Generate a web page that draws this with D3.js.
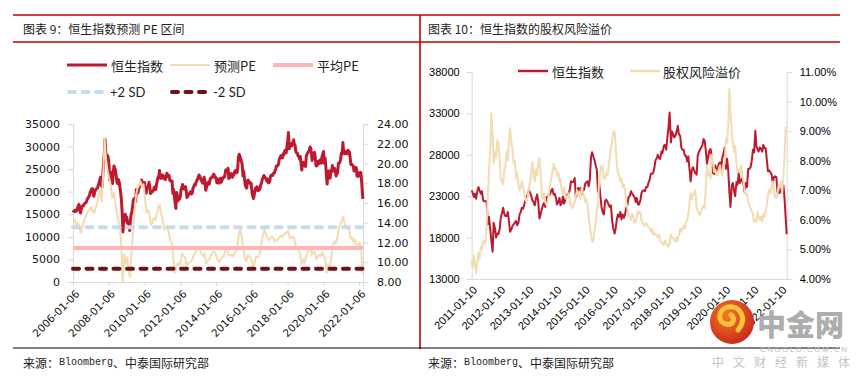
<!DOCTYPE html>
<html><head><meta charset="utf-8">
<script src="https://cdn.jsdelivr.net/npm/d3@7"></script>
<style>body{margin:0;background:#fff}svg{display:block}</style>
</head><body>
<svg id="c" width="866" height="379"></svg>
<script>
// ---------------- DATA ----------------
// Hang Seng Index, two readings per month (8th, 22nd), Jan 2006 – Mar 2022
const hsiValues = [
15400,15700,15600,15900,15700,15800,16400,16800,17200,16000,15300,16000,16700,16900,16900,17300,17400,17500,17800,18300,18600,18900,19100,19900,
20200,20600,20700,19700,19000,19800,20300,20600,20700,20800,21500,21900,22600,23200,21500,21000,24000,26500,28500,31600,28500,28200,28000,27800,
26500,22600,24000,24300,22200,21800,24500,25700,25200,24800,23300,22100,21800,22700,22000,21000,19500,18000,15000,11100,14000,13500,15000,14400,
14400,13000,13200,12800,11400,13600,15000,15500,16800,18100,18500,18400,17800,20500,20400,19700,20600,21000,21500,21700,22600,21800,21400,21900,
22000,20100,19700,20600,21000,21200,22100,21100,19600,19800,20000,20100,20300,21000,21100,20500,21600,22400,23200,23100,24700,23000,23000,23000,
23700,23400,22900,23300,22700,23500,24100,23700,23300,23600,22500,22400,22400,22400,19600,20500,19000,17600,16300,19800,19100,18000,18500,18400,
19000,20400,21000,21600,20900,20600,20600,21100,20000,18700,19000,19400,19600,19800,20000,19500,19800,20800,21100,21600,21500,22000,22500,22700,
23300,23700,23400,23000,22500,22300,21900,22700,23200,22400,20300,20800,21400,21900,22200,21700,22900,22900,23200,23200,23700,23900,23200,23300,
22800,22000,22300,22800,21900,22100,23000,22100,22500,23100,23200,23200,23900,24800,24700,24700,25200,22900,23100,24000,23800,24000,23200,23600,
23800,24500,24700,24800,24200,24900,27700,28300,27800,27400,26700,26200,23500,24600,23000,21700,21000,20800,22400,22600,22300,22000,21700,21900,
20000,19100,18500,19100,20200,20800,20500,21100,20200,20800,20400,20800,21600,21900,22900,23000,23600,23300,23100,22900,22300,22800,22000,22000,
22500,23400,23700,23700,23600,24100,24100,24600,25000,25700,25700,25800,26400,27300,27600,28000,27600,27500,28400,28200,29100,29200,28600,29900,
31400,33100,29500,30800,30500,30100,30300,30800,31500,30500,30300,28900,28600,28600,27900,27900,27200,27800,26200,24800,26200,26500,26100,25800,
25600,27900,28400,28600,28900,29100,29900,29700,28400,26900,27800,28500,28700,27800,25800,25700,26700,26100,26300,26900,27100,26300,27700,28200,
28900,26300,27500,26100,23500,21700,24300,24600,23600,23000,24700,24400,25800,24600,24900,25200,24400,23500,24600,24100,26300,26300,26500,27200,
28600,28300,30900,29000,28700,28400,28900,28700,28400,29200,28800,28800,27300,26000,26100,25900,25600,24600,25300,25400,25300,23500,23400,23400,
24200,23800,24300,22700,20500,18400
];
// Forward PE (monthly, mid-month), Jan 2006 – Mar 2022
const peValues = [
14.1,14.3,13.6,14.0,13.5,13.0,13.6,14.2,14.6,14.9,15.2,15.4,
15.6,15.2,15.0,15.5,16.0,16.8,17.3,16.2,19.0,22.5,20.0,19.2,
18.5,17.8,16.5,17.0,16.2,15.0,14.3,13.8,12.0,8.1,10.8,9.8,
10.5,9.2,8.5,11.0,13.0,15.0,16.8,17.5,17.8,18.2,17.6,17.9,
16.5,15.0,15.3,15.0,13.8,14.0,14.5,14.3,14.9,15.6,15.8,14.8,
14.2,13.3,13.5,13.7,13.0,12.2,12.0,10.5,8.9,9.6,9.9,9.6,
10.2,10.9,10.6,10.5,9.6,9.9,10.0,10.1,10.4,10.8,11.0,11.3,
11.5,11.2,10.8,10.6,10.9,9.9,10.1,10.3,10.6,10.9,11.1,11.0,
10.6,10.2,10.0,10.3,10.5,10.6,11.3,11.4,10.8,10.7,10.8,10.6,
10.9,11.1,11.4,12.8,13.4,12.5,11.6,10.4,10.1,10.7,10.6,10.4,
9.9,9.5,10.3,10.6,10.5,10.8,11.8,12.6,13.3,12.9,12.5,12.2,
12.4,12.6,12.5,12.1,12.3,12.2,12.5,12.7,12.6,12.8,12.9,13.0,
13.2,12.6,12.4,12.6,12.5,11.8,11.5,11.2,10.9,9.8,10.3,9.9,
10.5,11.0,11.3,11.6,10.7,11.1,11.0,10.3,10.6,10.8,10.6,11.0,
10.6,10.3,8.9,9.8,9.6,10.5,11.6,12.1,11.9,12.4,13.4,13.8,
14.2,14.6,13.9,13.7,13.4,13.3,12.4,12.5,12.0,12.3,11.8,11.7,
12.0,11.3,8.9
];
const peMean = 11.45, pePlus2SD = 13.55, peMinus2SD = 9.35;
// Equity risk premium (%), two readings per month, Jan 2011 – Mar 2022
const erpValues = [
4.6,4.4,4.8,4.5,4.2,4.5,4.9,4.7,5.1,5.0,5.3,5.2,5.3,5.8,6.9,7.6,8.4,9.6,8.9,7.9,8.3,8.1,8.7,8.6,
8.0,7.4,7.3,7.2,7.7,7.85,8.3,8.0,8.7,9.1,8.6,8.4,7.9,8.0,7.4,7.6,7.2,7.0,7.1,7.3,7.1,6.9,6.7,6.6,
6.8,7.1,7.3,7.6,7.96,7.6,7.3,7.7,7.5,7.9,8.1,7.6,6.9,6.7,6.9,6.6,6.5,6.6,6.9,7.2,7.4,7.6,7.9,7.7,
7.75,7.5,7.6,7.3,7.4,7.0,6.84,7.1,6.9,6.7,6.75,6.9,6.6,6.5,6.4,6.5,6.6,6.8,7.0,6.84,6.9,6.7,7.1,6.95,
6.8,6.6,6.7,6.5,6.1,5.8,5.5,5.26,5.3,5.6,5.9,6.3,6.6,7.3,7.6,7.85,7.7,7.4,7.4,7.6,7.5,7.8,8.1,8.4,
8.7,9.0,8.98,8.5,7.9,7.6,7.5,7.3,7.4,7.1,7.2,7.0,6.6,6.4,6.2,6.1,6.0,6.2,6.1,5.9,5.94,6.1,6.3,6.2,
6.27,6.0,5.9,5.8,5.82,5.9,5.8,5.75,5.7,5.6,5.7,5.5,5.55,5.5,5.5,5.4,5.49,5.3,5.25,5.2,5.15,5.3,5.2,5.15,
5.1,5.2,5.5,5.4,5.4,5.3,5.26,5.4,5.3,5.5,5.7,5.6,5.7,5.8,5.7,5.9,6.0,6.2,6.6,6.9,6.7,6.84,6.9,7.0,
6.4,6.3,6.2,6.16,6.3,6.4,6.5,6.4,7.2,7.85,7.5,7.6,7.4,8.19,8.0,7.62,7.7,7.5,7.51,7.7,7.85,7.6,7.5,7.85,
7.9,8.75,8.6,9.2,10.44,9.6,8.98,8.6,8.3,8.5,7.9,7.62,7.7,7.6,7.85,7.5,7.3,7.0,6.84,6.9,6.6,6.5,6.4,6.3,
6.2,5.94,6.0,5.94,6.27,6.1,6.0,6.1,5.94,6.2,6.1,6.3,6.5,6.84,7.0,6.9,7.1,7.3,7.0,6.8,6.73,6.9,7.18,7.1,
7.3,6.9,7.5,8.2,9.1,9.15
];
const leftYTicks = [0,5000,10000,15000,20000,25000,30000,35000];
const leftY2Ticks = [8,10,12,14,16,18,20,22,24];
const leftXTicks = ["2006-01-06","2008-01-06","2010-01-06","2012-01-06","2014-01-06","2016-01-06","2018-01-06","2020-01-06","2022-01-06"];
const rightYTicks = [13000,18000,23000,28000,33000,38000];
const rightY2Ticks = [0.04,0.05,0.06,0.07,0.08,0.09,0.10,0.11];
const rightXTicks = ["2011-01-10","2012-01-10","2013-01-10","2014-01-10","2015-01-10","2016-01-10","2017-01-10","2018-01-10","2019-01-10","2020-01-10","2021-01-10","2022-01-10"];

// ---------------- BUILD ----------------
const parse = d3.timeParse("%Y-%m-%d");
const hsi = hsiValues.map((v,i)=>({date:new Date(2006, Math.floor(i/2), i%2?22:8), v}));
const pe = peValues.map((v,i)=>({date:new Date(2006, i, 15), v}));
const erp = erpValues.map((v,i)=>({date:new Date(2011, Math.floor(i/2), i%2?22:8), v:v/100}));

const svg = d3.select("#c");
const RED="#C00000", HSIC="#BE1A2F", PEC="#F1DCB3", MEANC="#FFB5B5", P2C="#C8DBEE", M2C="#701019", AXC="#D9D9D9";
const CJK = "'Noto Sans CJK SC','Noto Sans',sans-serif";

// frame
svg.append("line").attr("x1",13).attr("x2",840).attr("y1",15).attr("y2",15).attr("stroke",RED).attr("stroke-width",1.6);
svg.append("line").attr("x1",13).attr("x2",840).attr("y1",42).attr("y2",42).attr("stroke",RED).attr("stroke-width",1.6);
svg.append("line").attr("x1",420).attr("x2",420).attr("y1",15).attr("y2",349).attr("stroke",RED).attr("stroke-width",1.6);
svg.append("line").attr("x1",13).attr("x2",840).attr("y1",348).attr("y2",348).attr("stroke","#000").attr("stroke-width",1.2);

svg.append("text").attr("x",23).attr("y",28).attr("dominant-baseline","central")
  .style("font-family",CJK).style("font-size","12px").attr("fill","#222").text("图表 9：恒生指数预测 PE 区间");
svg.append("text").attr("x",428).attr("y",28).attr("dominant-baseline","central")
  .style("font-family",CJK).style("font-size","12px").attr("fill","#222").text("图表 10：恒生指数的股权风险溢价");
function source(x){
  const t = svg.append("text").attr("x",x).attr("y",362).attr("dominant-baseline","central")
    .style("font-family",CJK).style("font-size","12px").attr("fill","#222");
  t.append("tspan").text("来源：");
  t.append("tspan").style("font-family","'Liberation Mono',monospace").style("font-size","10px").text("Bloomberg");
  t.append("tspan").text("、中泰国际研究部");
}
source(23); source(428);

// ---------------- LEFT CHART ----------------
const xL = d3.scaleTime().domain([parse("2006-01-06"), new Date(2022,2,25)]).range([73,363]);
const yL = d3.scaleLinear().domain([0,35000]).range([282,124]);
const yL2 = d3.scaleLinear().domain([8,24]).range([282,124]);

function styleAxis(g, font, size, color){
  g.select(".domain").attr("stroke",AXC);
  g.selectAll(".tick line").attr("stroke",AXC);
  g.selectAll("text").style("font-family",font).style("font-size",size).attr("fill",color);
}
const gl = svg.append("g").attr("transform","translate(73,0)")
  .call(d3.axisLeft(yL).tickValues(leftYTicks).tickSize(5).tickPadding(8).tickFormat(d3.format("d")));
styleAxis(gl,"'DejaVu Sans',sans-serif","11px","#111");
const gr = svg.append("g").attr("transform","translate(363,0)")
  .call(d3.axisRight(yL2).tickValues(leftY2Ticks).tickSize(5).tickPadding(9).tickFormat(d3.format(".2f")));
styleAxis(gr,"'DejaVu Sans',sans-serif","11px","#111");
const gb = svg.append("g").attr("transform","translate(0,282)")
  .call(d3.axisBottom(xL).tickValues(leftXTicks.map(parse)).tickSize(4).tickFormat(d3.timeFormat("%Y-%m-%d")));
styleAxis(gb,"'DejaVu Sans',sans-serif","10.5px","#111");
gb.selectAll(".tick text").attr("text-anchor","end").attr("y",0).attr("dy","0.35em")
  .attr("transform","translate(4,10) rotate(-45)");

const lineL = d3.line().x(d=>xL(d.date)).y(d=>yL(d.v));
const lineL2 = d3.line().x(d=>xL(d.date)).y(d=>yL2(d.v));
svg.append("path").datum(hsi).attr("d",lineL).attr("fill","none").attr("stroke",HSIC).attr("stroke-width",3).attr("stroke-linejoin","round");
svg.append("path").datum(pe).attr("d",lineL2).attr("fill","none").attr("stroke",PEC).attr("stroke-width",2).attr("stroke-linejoin","round");
const dom = xL.domain();
svg.append("path").datum(dom.map(d=>({date:d,v:peMean}))).attr("d",lineL2).attr("stroke",MEANC).attr("stroke-width",4).attr("fill","none");
svg.append("path").datum(dom.map(d=>({date:d,v:pePlus2SD}))).attr("d",lineL2).attr("stroke",P2C).attr("stroke-width",4)
  .attr("stroke-dasharray","6,7.5").attr("stroke-linecap","round").attr("fill","none");
svg.append("path").datum(dom.map(d=>({date:d,v:peMinus2SD}))).attr("d",lineL2).attr("stroke",M2C).attr("stroke-width",4)
  .attr("stroke-dasharray","6,7.5").attr("stroke-linecap","round").attr("fill","none");

// left legend
function legLine(x1,x2,y,color,w,dash){
  const l = svg.append("line").attr("x1",x1).attr("x2",x2).attr("y1",y).attr("y2",y).attr("stroke",color).attr("stroke-width",w);
  if(dash) l.attr("stroke-dasharray",dash).attr("stroke-linecap","round");
}
function legText(x,y,t,font){
  svg.append("text").attr("x",x).attr("y",y).attr("dominant-baseline","central")
    .style("font-family",font||CJK).style("font-size","13px").attr("fill","#222").text(t);
}
legLine(67,107,65,HSIC,3); legText(111,65,"恒生指数");
legLine(170,210,65,PEC,2); legText(214,65,"预测PE");
legLine(273,313,65,MEANC,4); legText(317,65,"平均PE");
legLine(69,104,92,P2C,4,"6,7.5"); legText(110,92,"+2 SD","Lato,sans-serif");
legLine(172,207,92,M2C,4,"6,7.5"); legText(213,92,"-2 SD","Lato,sans-serif");

// ---------------- RIGHT CHART ----------------
const xR = d3.scaleTime().domain([parse("2011-01-10"), new Date(2022,2,22)]).range([471.7,786.7]).clamp(true);
const yR = d3.scaleLinear().domain([13000,38000]).range([279,72]);
const yR2 = d3.scaleLinear().domain([0.04,0.11]).range([279,72]);
const rl = svg.append("g").attr("transform","translate(471.7,0)")
  .call(d3.axisLeft(yR).tickValues(rightYTicks).tickSize(5).tickPadding(7).tickFormat(d3.format("d")));
styleAxis(rl,"'Liberation Sans',Arial,sans-serif","11px","#000");
const rr = svg.append("g").attr("transform","translate(786.7,0)")
  .call(d3.axisRight(yR2).tickValues(rightY2Ticks).tickSize(5).tickPadding(8).tickFormat(d3.format(".2%")));
styleAxis(rr,"'Liberation Sans',Arial,sans-serif","11px","#000");
const rb = svg.append("g").attr("transform","translate(0,279)")
  .call(d3.axisBottom(xR).tickValues(rightXTicks.map(parse)).tickSize(0).tickFormat(d3.timeFormat("%Y-%m-%d")));
styleAxis(rb,"'Liberation Sans',Arial,sans-serif","11px","#000");
rb.select(".domain").attr("d","M471.7,0.5H786.7");
rb.selectAll(".tick text").attr("text-anchor","end").attr("y",0).attr("dy","0.35em")
  .attr("transform","translate(3,9) rotate(-45)");

const hsiR = hsi.filter(d=>d.date>=new Date(2011,0,1));
const lineR = d3.line().x(d=>xR(d.date)).y(d=>yR(d.v));
const lineR2 = d3.line().x(d=>xR(d.date)).y(d=>yR2(d.v));
svg.append("path").datum(hsiR).attr("d",lineR).attr("fill","none").attr("stroke",HSIC).attr("stroke-width",2).attr("stroke-linejoin","round");
svg.append("path").datum(erp).attr("d",lineR2).attr("fill","none").attr("stroke",PEC).attr("stroke-width",2).attr("stroke-linejoin","round");

legLine(518,548,71,HSIC,2.5); legText(552,71,"恒生指数");
legLine(630,660,71,PEC,2.5); legText(663,71,"股权风险溢价");

// ---------------- WATERMARK ----------------
const defs = svg.append("defs");
const rg = defs.append("radialGradient").attr("id","wm").attr("cx","40%").attr("cy","35%").attr("r","70%");
rg.append("stop").attr("offset","0%").attr("stop-color","#F47A20");
rg.append("stop").attr("offset","100%").attr("stop-color","#C9261C");
svg.append("circle").attr("cx",732).attr("cy",322).attr("r",22).attr("fill","url(#wm)");
svg.append("path").attr("d","M738,330 C748,318 740,305 728,307 C718,309 717,322 726,324 C733,326 736,318 731,315")
  .attr("fill","none").attr("stroke","#F9C23C").attr("stroke-width",5).attr("stroke-linecap","round");
svg.append("text").attr("x",757).attr("y",323).attr("dominant-baseline","central")
  .style("font-family",CJK).style("font-weight","900").style("font-size","29px").attr("fill","#ADADAD").text("中金网");
svg.append("text").attr("x",760).attr("y",349).attr("dominant-baseline","central").attr("textLength",87).attr("lengthAdjust","spacing")
  .style("font-family","'Liberation Sans',sans-serif").style("font-size","8px").attr("fill","#BDBDBD").text("CNGOLD.COM.CN");
svg.append("text").attr("x",712).attr("y",361).attr("dominant-baseline","central").attr("textLength",138).attr("lengthAdjust","spacing")
  .style("font-family",CJK).style("font-size","12px").attr("fill","#C4C4C4").text("中文财经新媒体");
</script>
</body></html>
